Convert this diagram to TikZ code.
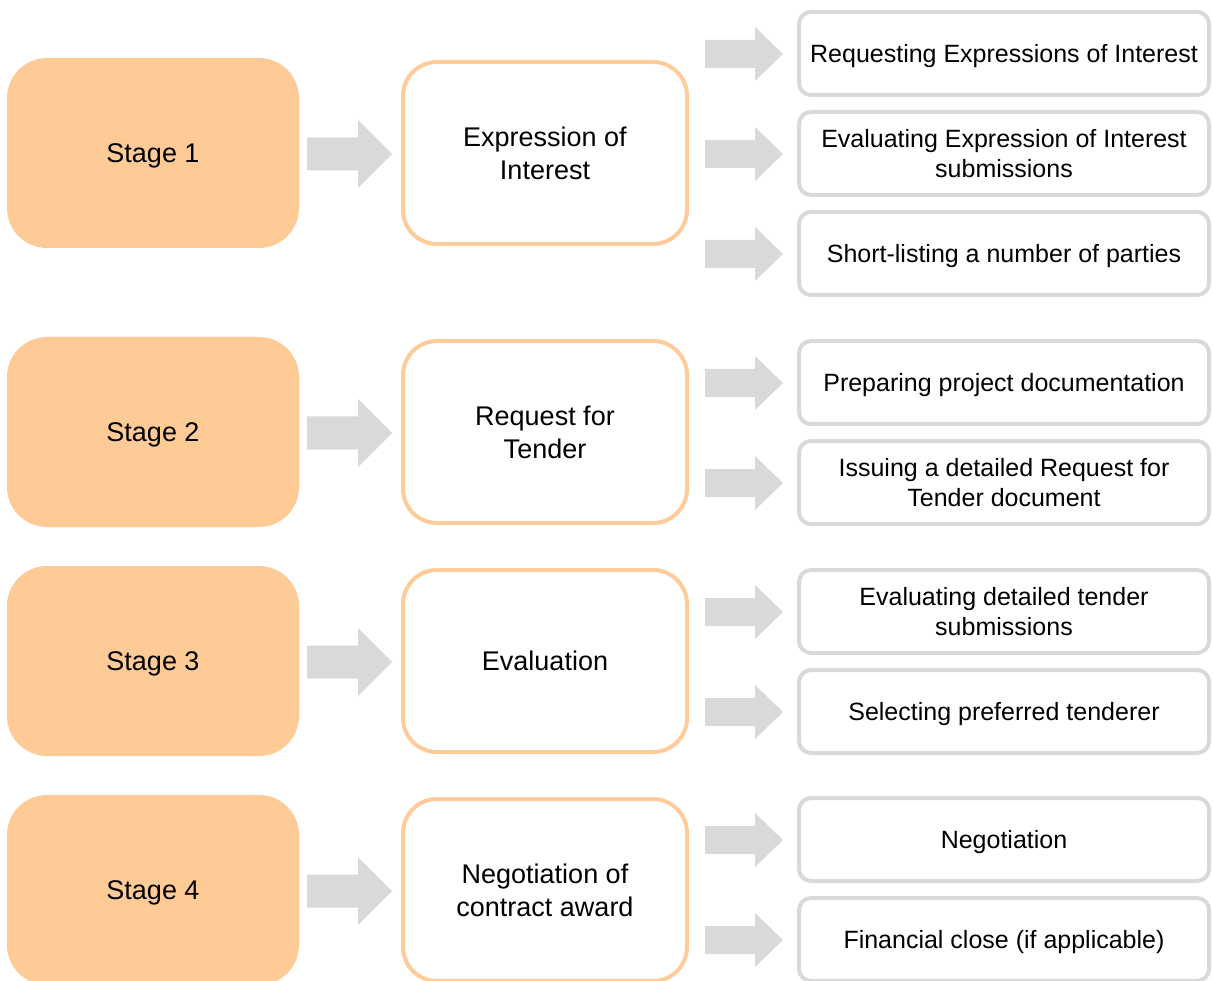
\documentclass[tikz,border=0pt]{standalone}
\usepackage{fontspec}
\setmainfont{Liberation Sans}
\usetikzlibrary{calc}
\definecolor{stagefill}{HTML}{FECB97}
\definecolor{midline}{HTML}{FFCC99}
\definecolor{greyc}{HTML}{D9D9D9}
\newcommand\blockarr[5]{%
  \fill[greyc] let \p1=#1, \p2=#2 in
    (\x1,\y1+#3pt) -- (\x2-#5pt,\y1+#3pt) -- (\x2-#5pt,\y1+#4pt) -- (\x2,\y1)
    -- (\x2-#5pt,\y1-#4pt) -- (\x2-#5pt,\y1-#3pt) -- (\x1,\y1-#3pt) -- cycle;}
\begin{document}
\begin{tikzpicture}[x=1pt,y=-1pt,
  singlebig/.style={text height=19.3pt,text depth=0pt},
  singlesmall/.style={text height=17.9pt,text depth=0pt},
  stagebox/.style={fill=stagefill,draw=none,rounded corners=40pt,minimum width=292pt,minimum height=190pt,inner sep=0pt,font=\fontsize{27}{33}\selectfont,singlebig},
  midbox/.style={fill=white,draw=midline,line width=4pt,rounded corners=34pt,minimum width=284pt,minimum height=182pt,inner sep=0pt,align=center,font=\fontsize{27}{33}\selectfont},
  itembox/.style={fill=white,draw=greyc,line width=4pt,rounded corners=12pt,minimum width=410pt,minimum height=83pt,inner sep=0pt,align=center,font=\fontsize{25}{30}\selectfont}]
\useasboundingbox (0,0) rectangle (1213,981);
% stages
\node[stagebox] (s1) at (153,153) {Stage 1};
\node[stagebox] (s2) at (153,432) {Stage 2};
\node[stagebox] (s3) at (153,661) {Stage 3};
\node[stagebox] (s4) at (153,890) {Stage 4};
% middle
\node[midbox] (m1) at (545,153) {Expression of\\Interest};
\node[midbox] (m2) at (545,432) {Request for\\Tender};
\node[midbox,singlebig] (m3) at (545,661) {Evaluation};
\node[midbox] (m4) at (545,890) {Negotiation of\\contract award};
% items
\node[itembox,singlesmall] (r1) at (1004,53.5) {Requesting Expressions of Interest};
\node[itembox] (r2) at (1004,153.5) {Evaluating Expression of Interest\\submissions};
\node[itembox,singlesmall] (r3) at (1004,253.5) {Short-listing a number of parties};
\node[itembox,singlesmall] (r4) at (1004,382.5) {Preparing project documentation};
\node[itembox] (r5) at (1004,482.5) {Issuing a detailed Request for\\Tender document};
\node[itembox] (r6) at (1004,611.5) {Evaluating detailed tender\\submissions};
\node[itembox,singlesmall] (r7) at (1004,711.5) {Selecting preferred tenderer};
\node[itembox,singlesmall] (r8) at (1004,839.5) {Negotiation};
\node[itembox,singlesmall] (r9) at (1004,939.5) {Financial close (if applicable)};
% stage -> middle arrows
\foreach \i in {1,2,3,4}{
  \blockarr{($(s\i.east)+(8,1)$)}{($(m\i.west)+(-9,1)$)}{16.5}{34}{34}
}
% middle -> item arrows
\foreach \m/\r in {1/1,1/2,1/3,2/4,2/5,3/6,3/7,4/8,4/9}{
  \blockarr{($(m\m.east |- r\r.center)+(16,0.5)$)}{($(r\r.west)+(-14,0.5)$)}{14}{27}{28}
}
\end{tikzpicture}
\end{document}
